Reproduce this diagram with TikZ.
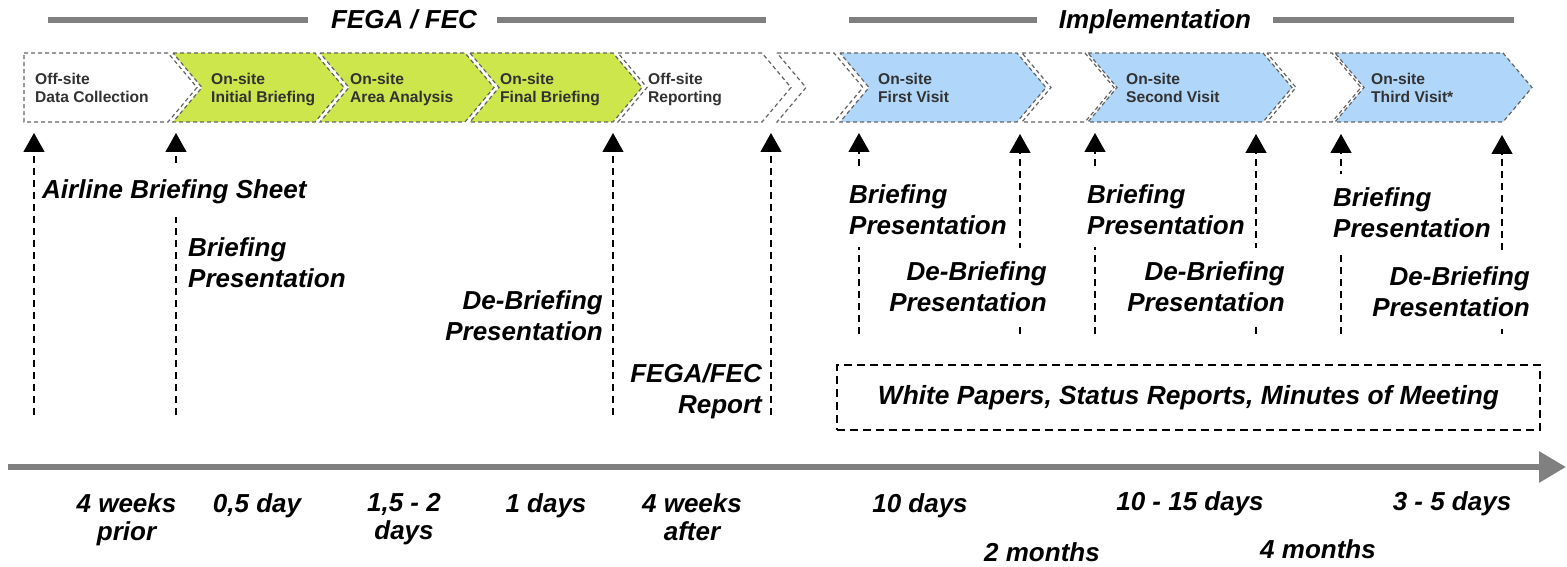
\documentclass[tikz,border=0pt]{standalone}
\usepackage{fontspec}
\setmainfont{Liberation Sans}
\usetikzlibrary{arrows.meta}
\definecolor{cgreen}{RGB}{204,230,76}
\definecolor{cblue}{RGB}{176,214,250}
\definecolor{cbord}{RGB}{100,100,100}
\definecolor{ctext}{RGB}{50,50,50}
\definecolor{bargray}{RGB}{128,128,128}
\tikzset{
  chevbox/.style={draw=cbord, dash pattern=on 4pt off 3pt, line width=1.2pt},
  chevtxt/.style={font=\fontsize{15.6}{18}\selectfont\bfseries, text=ctext, align=left, anchor=north west, inner sep=0pt},
  lbl/.style={font=\fontsize{26}{31}\selectfont\bfseries\itshape, fill=white, inner xsep=2pt, inner ysep=13pt},
  upar/.style={dash pattern=on 7pt off 5pt, line width=1.3pt, -{Triangle[width=21pt,length=19pt]}},
  headbar/.style={line width=6pt, draw=bargray},
  titletxt/.style={font=\fontsize{26}{31}\selectfont\bfseries\itshape, inner sep=0pt, anchor=base},
  dur/.style={font=\fontsize{26}{28}\selectfont\bfseries\itshape, align=center, inner sep=0pt},
  notes/.style={draw=black, dash pattern=on 8pt off 5pt, line width=1.4pt, minimum width=703pt, minimum height=65pt, font=\fontsize{26.3}{31}\selectfont\bfseries\itshape}
}
\begin{document}
\begin{tikzpicture}[x=1pt,y=-1pt]
\useasboundingbox (0,0) rectangle (1567,567);

% header bars and titles
\node[titletxt] (tfega) at (404,29) {FEGA / FEC};
\node[titletxt] (timpl) at (1155,29) {Implementation};
\coordinate (h1a) at (48,20); \coordinate (h1b) at (308,20);
\coordinate (h2a) at (497,20); \coordinate (h2b) at (766,20);
\coordinate (h3a) at (849,20); \coordinate (h3b) at (1037,20);
\coordinate (h4a) at (1273,20); \coordinate (h4b) at (1514,20);
\draw[headbar] (h1a) -- (h1b);
\draw[headbar] (h2a) -- (h2b);
\draw[headbar] (h3a) -- (h3b);
\draw[headbar] (h4a) -- (h4b);

% chevrons
\draw[chevbox, fill=white] (24,53) -- (168,53) -- (197,87.5) -- (168,122) -- (24,122) -- cycle;
\foreach \L/\R/\c in {173/315/cgreen, 320/465/cgreen, 470/613/cgreen, 618/762/white, 777/834/white, 840/1017/cblue, 1022/1085/white, 1088/1263/cblue, 1267/1332/white, 1335/1503/cblue}{
  \draw[chevbox, fill=\c] (\L,53) -- (\R,53) -- ({\R+29},87.5) -- (\R,122) -- (\L,122) -- ({\L+29},87.5) -- cycle;
}
\node[chevtxt] (c1) at (35,73) {Off-site\\Data Collection};
\node[chevtxt] (c2) at (211,73) {On-site\\Initial Briefing};
\node[chevtxt] (c3) at (350,73) {On-site\\Area Analysis};
\node[chevtxt] (c4) at (500,73) {On-site\\Final Briefing};
\node[chevtxt] (c5) at (648,73) {Off-site\\Reporting};
\node[chevtxt] (c7) at (878,73) {On-site\\First Visit};
\node[chevtxt] (c9) at (1126,73) {On-site\\Second Visit};
\node[chevtxt] (c11) at (1371,73) {On-site\\Third Visit*};

% arrows, FEGA/FEC phase
\coordinate (f1b) at (34,415);  \coordinate (f1t) at (34,133);
\coordinate (f2b) at (176,415); \coordinate (f2t) at (176,133);
\coordinate (f3b) at (613,415); \coordinate (f3t) at (613,133);
\coordinate (f4b) at (771,415); \coordinate (f4t) at (771,133);
\draw[upar] (f1b) -- (f1t);
\draw[upar] (f2b) -- (f2t);
\draw[upar] (f3b) -- (f3t);
\draw[upar] (f4b) -- (f4t);

% arrows, implementation
\coordinate (i1b) at (859,334);  \coordinate (i1t) at (859,133);
\coordinate (i2b) at (1020,334); \coordinate (i2t) at (1020,134);
\coordinate (i3b) at (1095,334); \coordinate (i3t) at (1095,133);
\coordinate (i4b) at (1256,334); \coordinate (i4t) at (1256,134);
\coordinate (i5b) at (1341,334); \coordinate (i5t) at (1341,134);
\coordinate (i6b) at (1502,334); \coordinate (i6t) at (1502,135);
\draw[upar] (i1b) -- (i1t);
\draw[upar] (i2b) -- (i2t);
\draw[upar] (i3b) -- (i3t);
\draw[upar] (i4b) -- (i4t);
\draw[upar] (i5b) -- (i5t);
\draw[upar] (i6b) -- (i6t);

% labels
\node[lbl, anchor=base west] (abs) at (40,199) {Airline Briefing Sheet};
\node[lbl, anchor=north west, align=left] (bp1) at (186,224) {Briefing\\Presentation};
\node[lbl, anchor=north east, align=right] (dp1) at (605,277) {De-Briefing\\Presentation};
\node[lbl, anchor=north east, align=right] (rep) at (764,350) {FEGA/FEC\\Report};

\node[lbl, anchor=north west, align=left] (bp2) at (847,171) {Briefing\\Presentation};
\node[lbl, anchor=north east, align=right] (dp2) at (1049,248) {De-Briefing\\Presentation};
\node[lbl, anchor=north west, align=left] (bp3) at (1085,171) {Briefing\\Presentation};
\node[lbl, anchor=north east, align=right] (dp3) at (1287,248) {De-Briefing\\Presentation};
\node[lbl, anchor=north west, align=left] (bp4) at (1331,174) {Briefing\\Presentation};
\node[lbl, anchor=north east, align=right] (dp4) at (1532,253) {De-Briefing\\Presentation};

\node[notes] (wp) at (1188.5,397.5) {White Papers, Status Reports, Minutes of Meeting};

% time axis
\coordinate (ax0) at (8,467);
\coordinate (ax1) at (1566,467);
\draw[line width=6pt, draw=bargray, -{Triangle[length=27pt,width=30pt]}] (ax0) -- (ax1);

% durations
\node[dur, anchor=north] (d1) at (126.5,493) {4 weeks\\prior};
\node[dur, anchor=base] (d2) at (257,512) {0,5 day};
\node[dur, anchor=north] (d3) at (404,493) {1,5 - 2\\days};
\node[dur, anchor=base] (d4) at (546,512) {1 days};
\node[dur, anchor=north] (d5) at (692,493) {4 weeks\\after};
\node[dur, anchor=base] (d6) at (920,512) {10 days};
\node[dur, anchor=base] (d7) at (1190,510) {10 - 15 days};
\node[dur, anchor=base] (d8) at (1452,510) {3 - 5 days};
\node[dur, anchor=base] (d9) at (1042,561) {2 months};
\node[dur, anchor=base] (d10) at (1318,558) {4 months};
\end{tikzpicture}
\end{document}
